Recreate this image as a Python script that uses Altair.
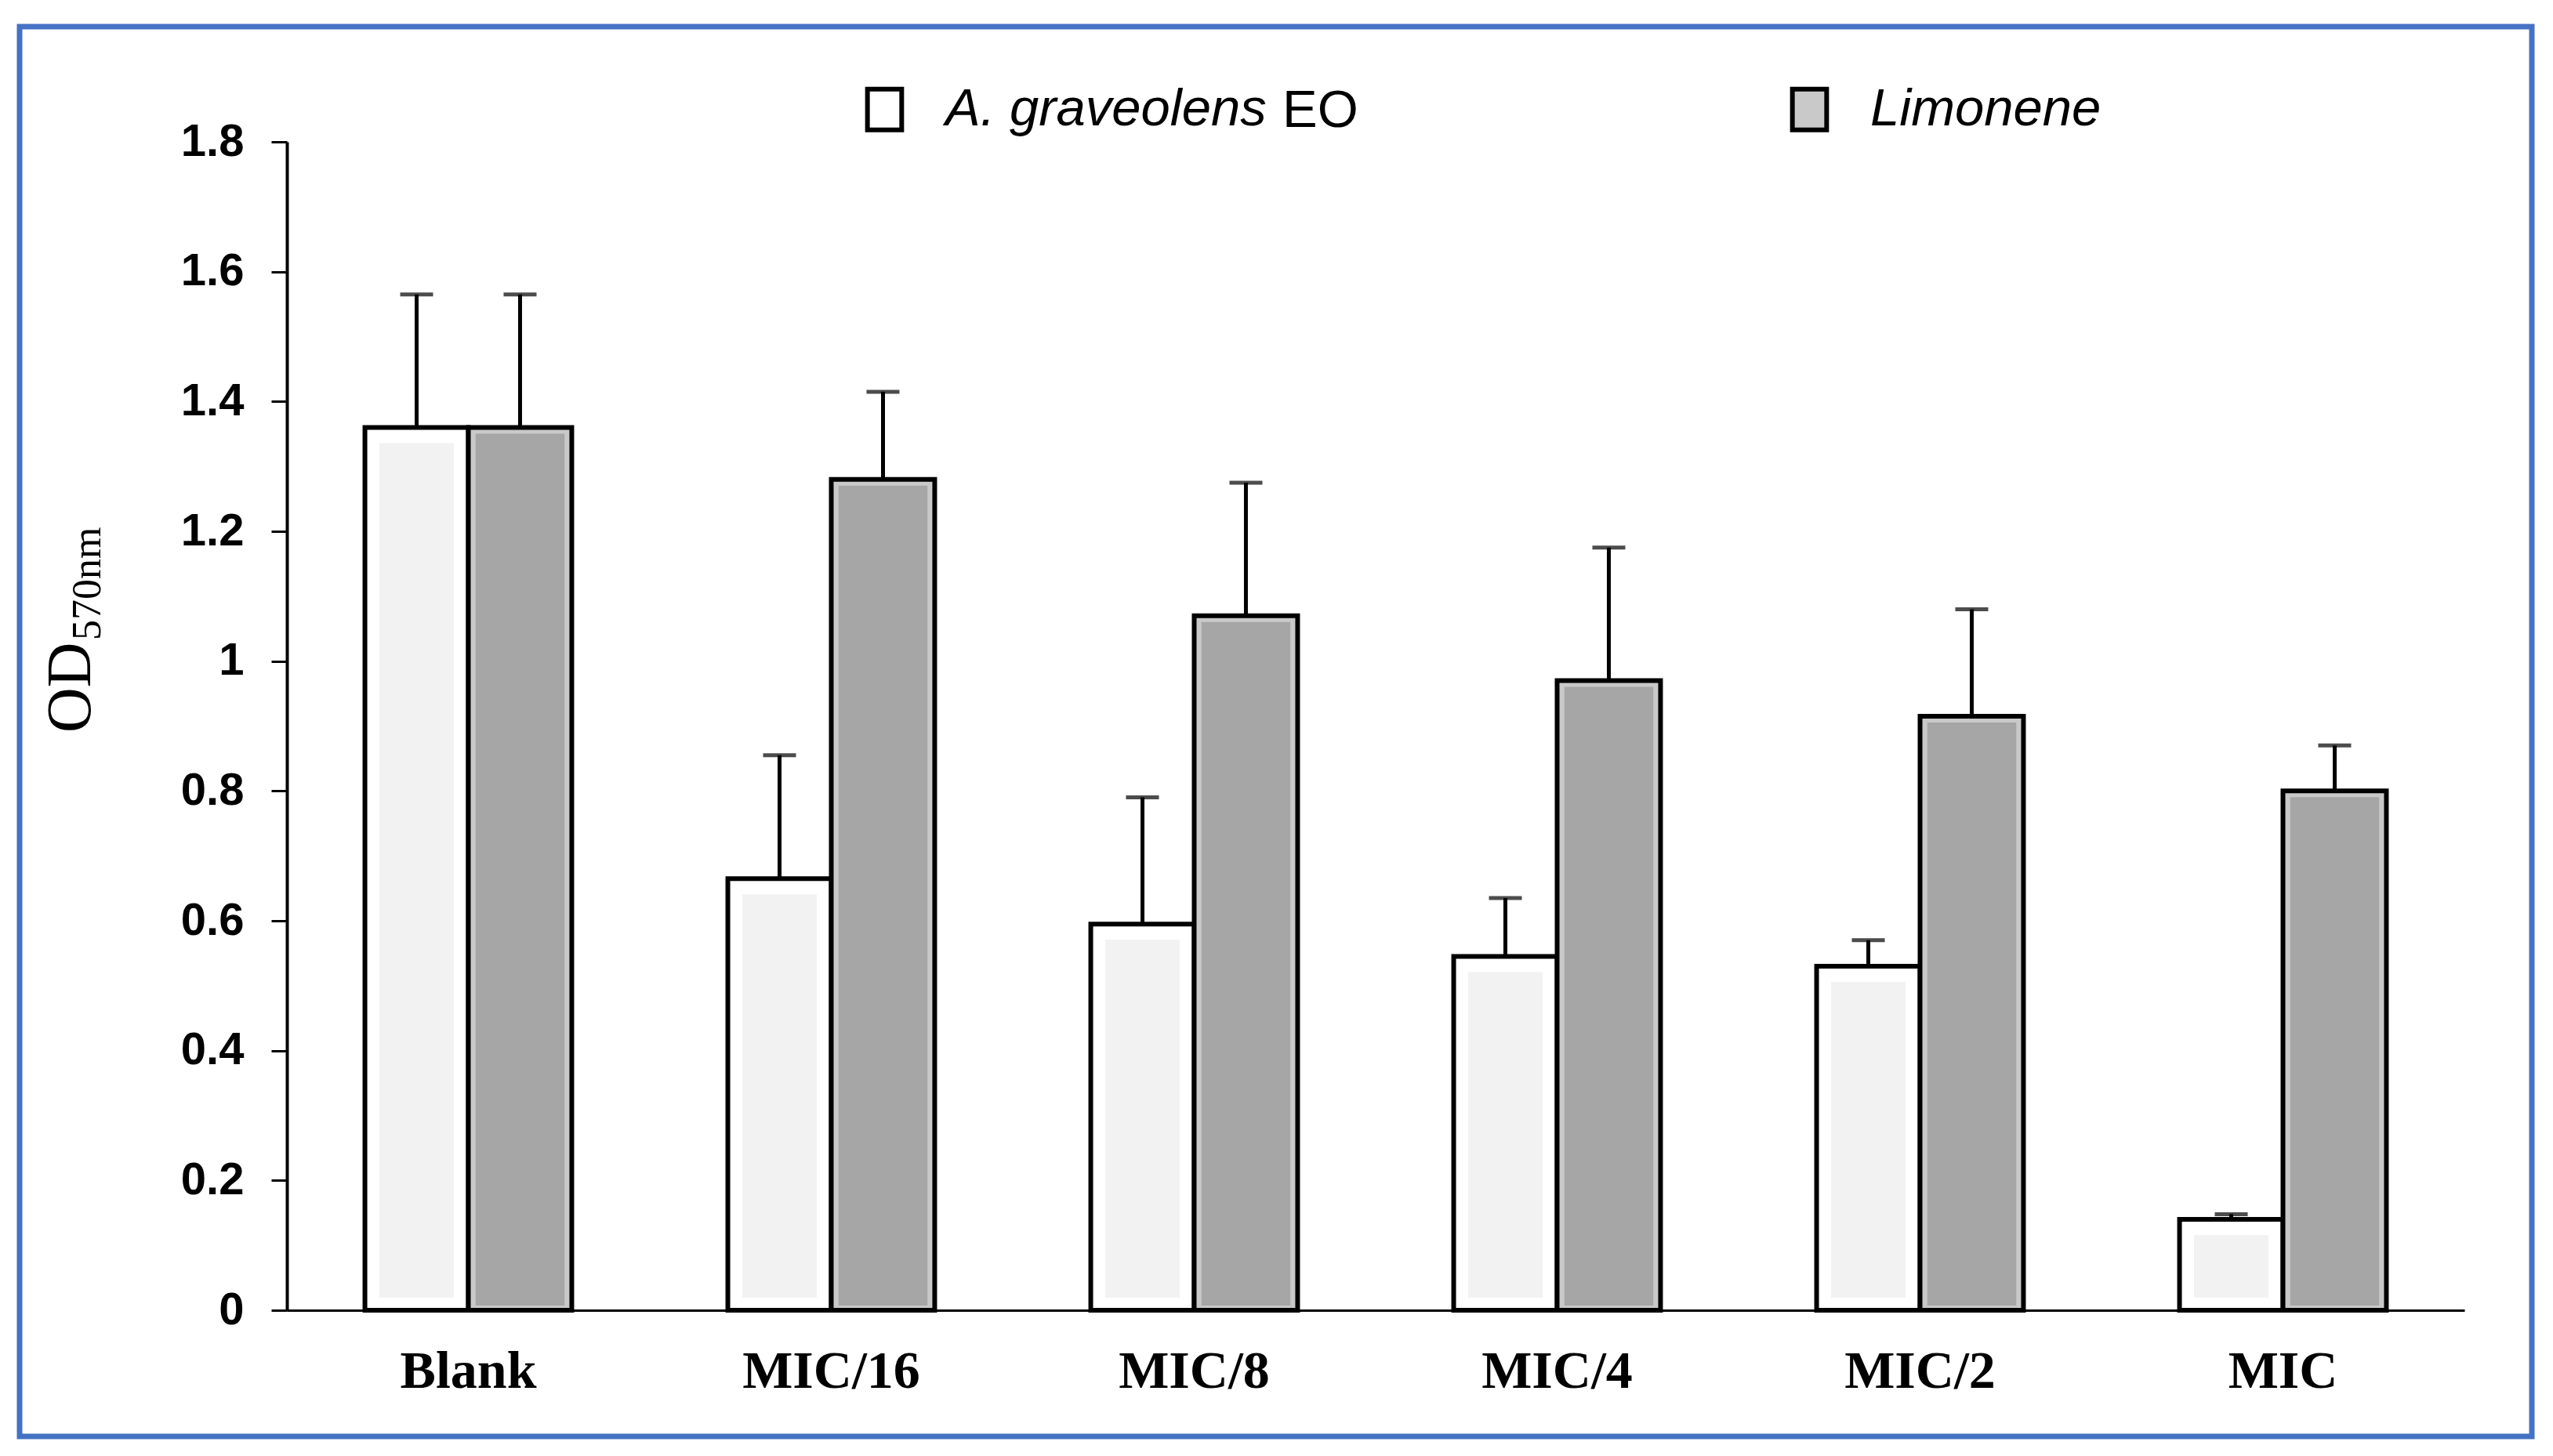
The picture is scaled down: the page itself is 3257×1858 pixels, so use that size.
import altair as alt
import pandas as pd

categories = ["Blank", "MIC/16", "MIC/8", "MIC/4", "MIC/2", "MIC"]
series_names = ["A. graveolens EO", "Limonene"]
graveolens_values = [1.36, 0.665, 0.595, 0.545, 0.53, 0.14]
graveolens_errors = [0.205, 0.19, 0.195, 0.09, 0.04, 0.008]
limonene_values = [1.36, 1.28, 1.07, 0.97, 0.915, 0.80]
limonene_errors = [0.205, 0.135, 0.205, 0.205, 0.165, 0.07]
y_ticks = [0, 0.2, 0.4, 0.6, 0.8, 1.0, 1.2, 1.4, 1.6, 1.8]
y_title_main = ["OD"]
y_title_sub = ["570nm"]
legend_suffix = ["EO"]

rows = []
for i, c in enumerate(categories):
    rows.append({"cat": c, "series": series_names[0],
                 "value": graveolens_values[i], "err": graveolens_errors[i]})
    rows.append({"cat": c, "series": series_names[1],
                 "value": limonene_values[i], "err": limonene_errors[i]})
df = pd.DataFrame(rows)

base = alt.Chart(df).transform_calculate(upper="datum.value + datum.err")

x_enc = alt.X(
    "cat:N", sort=categories,
    scale=alt.Scale(paddingInner=0.43, paddingOuter=0.215),
    axis=alt.Axis(title=None, labelAngle=0, labelFont="Liberation Serif",
                  labelFontWeight="bold", labelFontSize=68, labelColor="black",
                  labelBaseline="alphabetic", labelPadding=98, labelLimit=1000,
                  ticks=False, tickSize=0, domainColor="black", domainWidth=3,
                  zindex=1),
)
xoff_enc = alt.XOffset("series:N", sort=series_names,
                       scale=alt.Scale(domain=series_names, paddingInner=0, paddingOuter=0))
y_enc = alt.Y(
    "value:Q",
    scale=alt.Scale(domain=[0, 1.8], nice=False, zero=True),
    axis=alt.Axis(values=y_ticks, format="~g", title=None, grid=False,
                  labelFont="Liberation Sans", labelFontWeight="bold",
                  labelFontSize=58, labelColor="black", labelPadding=35,
                  tickSize=20, tickWidth=3, tickColor="black",
                  domainColor="black", domainWidth=4, zindex=1),
)

outer = base.mark_bar(stroke="black", strokeWidth=6).encode(
    x=x_enc, xOffset=xoff_enc, y=y_enc,
    color=alt.Color(
        "series:N", sort=series_names,
        scale=alt.Scale(domain=series_names, range=["#ffffff", "#c9c9c9"]),
        legend=alt.Legend(
            title=None, orient="none", legendX=729, legendY=-75,
            direction="horizontal", padding=0,
            symbolType="M-0.84,-1H0.84V1H-0.84Z", symbolSize=2704,
            symbolStrokeColor="black", symbolStrokeWidth=6, symbolOpacity=1,
            labelFont="Liberation Sans", labelFontStyle="italic",
            labelFontSize=67, labelColor="black", labelOffset=44,
            labelLimit=1000, columnPadding=658,
            labelExpr="replace(datum.label, ' EO', '')",
        ),
    ),
)

inner_white = base.transform_filter(
    alt.datum.series == series_names[0]
).mark_bar(width=alt.RelativeBandSize(0.36), xOffset=-66, yOffset=20,
           y2Offset=-16, color="#f2f2f2").encode(
    x=x_enc, y=y_enc, y2=alt.datum(0))

inner_grey = base.transform_filter(
    alt.datum.series == series_names[1]
).mark_bar(width=alt.RelativeBandSize(0.43), xOffset=66, yOffset=8,
           y2Offset=-6, color="#a6a6a6").encode(
    x=x_enc, y=y_enc, y2=alt.datum(0))

rules = base.mark_rule(color="black", strokeWidth=5).encode(
    x=x_enc, xOffset=xoff_enc, y="value:Q", y2="upper:Q")

caps = base.mark_tick(color="black", thickness=5, size=42,
                      orient="horizontal").encode(
    x=x_enc, xOffset=xoff_enc, y="upper:Q")

title_main = alt.Chart(pd.DataFrame({"t": y_title_main})).mark_text(
    font="Liberation Serif", fontSize=80, angle=270, align="left",
    baseline="alphabetic", color="black",
).encode(text="t:N", x=alt.value(-251), y=alt.value(754))

title_sub = alt.Chart(pd.DataFrame({"t": y_title_sub})).mark_text(
    font="Liberation Serif", fontSize=52, angle=270, align="left",
    baseline="alphabetic", color="black",
).encode(text="t:N", x=alt.value(-238), y=alt.value(636))

eo_text = alt.Chart(pd.DataFrame({"t": legend_suffix})).mark_text(
    font="Liberation Sans", fontSize=67, align="left",
    baseline="alphabetic", color="black",
).encode(text="t:N", x=alt.value(1270), y=alt.value(-19))

frame = alt.Chart(pd.DataFrame({"t": legend_suffix})).mark_rect(
    fillOpacity=0, stroke="#4472C4", strokeWidth=7,
).encode(x=alt.value(-341), x2=alt.value(2864),
         y=alt.value(-147), y2=alt.value(1652))

chart = alt.layer(
    outer, inner_white, inner_grey, rules, caps,
    title_main, title_sub, eo_text, frame,
).resolve_scale(color="independent").properties(
    width=2778, height=1491,
    autosize=alt.AutoSizeParams(type="none"),
    padding={"left": 358, "top": 173, "right": 95, "bottom": 168},
    background="white",
).configure_view(stroke="transparent")

chart.save("out.html", embed_options={"renderer": "svg", "actions": False})
